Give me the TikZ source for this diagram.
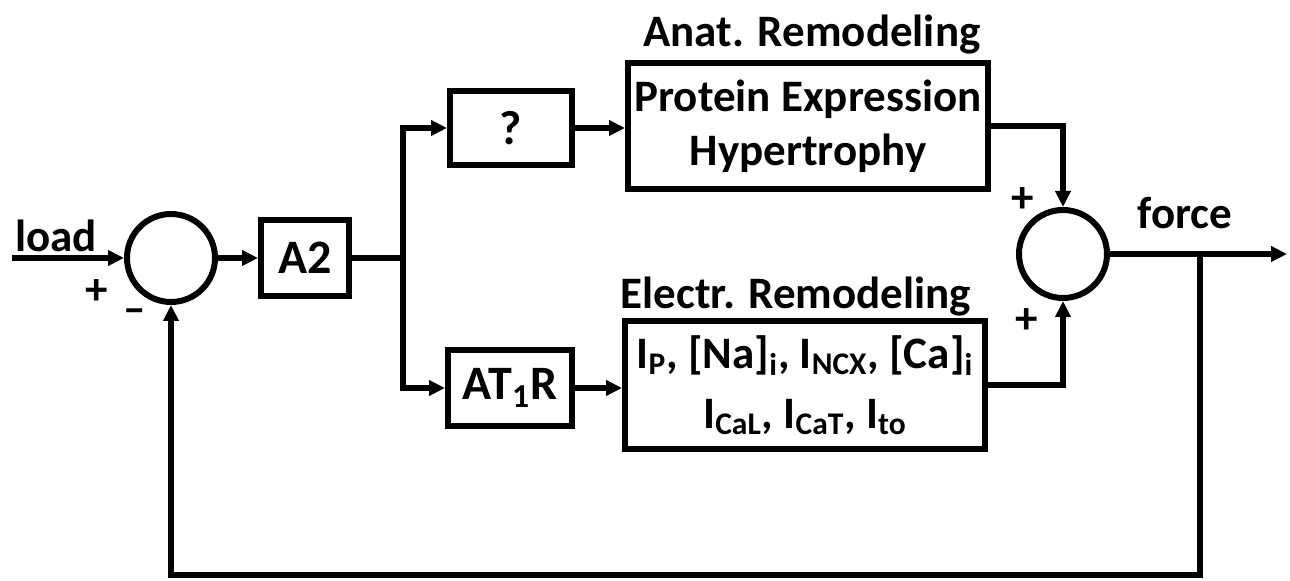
\documentclass[tikz,border=0pt]{standalone}
\usepackage{fontspec}
\setmainfont{Carlito}
\usepackage{tikz}
\usetikzlibrary{arrows.meta}
\newcommand{\sbs}[1]{\textsubscript{#1}}

\begin{document}
\begin{tikzpicture}[x=0.5pt,y=-0.5pt,>={Triangle[length=8pt,width=7.5pt]},line width=3pt,
  blk/.style={draw,line width=3pt,inner sep=0pt,align=center,font=\bfseries\fontsize{22.5}{27}\selectfont},
  smallblk/.style={blk,font=\bfseries\fontsize{24}{28}\selectfont},
  sum/.style={draw,circle,line width=3pt,minimum size=44pt,inner sep=0pt},
  lbl/.style={font=\bfseries\fontsize{22.5}{27}\selectfont}]
\useasboundingbox (0,0) rectangle (1290,581);
\node[sum](s1) at (171,258){};
\node[smallblk,minimum width=44pt,minimum height=38pt](a2) at (305,258){A2};
\node[smallblk,minimum width=61pt,minimum height=37pt](q) at (511,128){?};
\node[smallblk,minimum width=62pt,minimum height=38pt](at) at (510,388){AT\sbs{1}R};
\node[blk,minimum width=180pt,minimum height=63pt](anat) at (808,126){Protein Expression\\Hypertrophy};
\node[blk,minimum width=180pt,minimum height=64pt,font=\bfseries\fontsize{22.5}{30}\selectfont](el) at (805,385)
  {I\sbs{P}, [Na]\sbs{i}, I\sbs{NCX}, [Ca]\sbs{i}\\I\sbs{CaL}, I\sbs{CaT}, I\sbs{to}};
\node[sum](s2) at (1063,254){};
\coordinate(in) at (12,258);
\coordinate(split) at (403,258);
\coordinate(tap) at (1200,254);
\coordinate(fb) at (1200,575);
\coordinate(out) at (1287,254);
\node[lbl](load) at (56,236){load};
\node[lbl](p1) at (97,292){+};
\node[lbl](m1) at (135,316){--};
\node[lbl](p2) at (1023,200){+};
\node[lbl](p3) at (1027,321){+};
\node[lbl](force) at (1185,213){force};
\node[lbl](anatl) at (812,35){Anat. Remodeling};
\node[lbl](ell) at (796,297){Electr. Remodeling};
\draw[->](in)--(s1);
\draw[->](s1)--(a2);
\draw(a2)--(split);
\draw[->](split)|-(q);
\draw[->](split)|-(at);
\draw[->](q.east)--(q.east-|anat.west);
\draw[->](at.east)--(at.east-|el.west);
\draw[->](anat.east)-|(s2.north);
\draw[->](el.east)-|(s2.south);
\draw[->](s2)--(out);
\draw[->](tap)--(fb)-|(s1.south);
\end{tikzpicture}
\end{document}
